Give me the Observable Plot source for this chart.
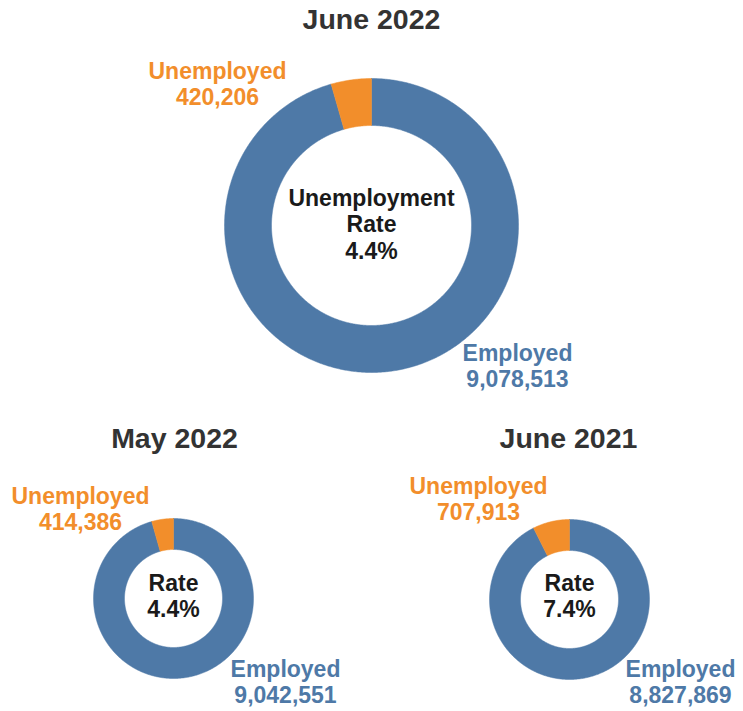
<!DOCTYPE html>
<html><head><meta charset="utf-8">
<script src="https://cdn.jsdelivr.net/npm/d3@7"></script>
<script src="https://cdn.jsdelivr.net/npm/@observablehq/plot@0.6"></script>
<style>body{margin:0;background:#fff;}</style>
</head><body><div id="chart"></div>
<script>
// ---- data ----
const periods = ["June 2022", "May 2022", "June 2021"];
const employed = [9078513, 9042551, 8827869];
const unemployed = [420206, 414386, 707913];
const categories = ["Employed", "Unemployed"];
const centerCaptions = [["Unemployment", "Rate"], ["Rate"], ["Rate"]];

// ---- layout (positions only) ----
const W = 743, H = 711;
const layout = [
  {cx: 371, cy: 225, r0: 100, r1: 147, titleX: 371, titleY: 28, uX: 217, uY: 78, eX: 517, eY: 360, centerTop: 205},
  {cx: 173, cy: 598, r0: 49, r1: 80, titleX: 174, titleY: 447, uX: 80, uY: 503, eX: 285, eY: 676, centerTop: 590},
  {cx: 569, cy: 599, r0: 49, r1: 80, titleX: 568, titleY: 447, uX: 478, uY: 493, eX: 680, eY: 676, centerTop: 590}
];
const colorRange = ["#4e79a7", "#f28e2b"];
const FS = 23, TFS = 28.5, LH = 26.5;

const fmt = d3.format(",");
const pie = d3.pie().sort(null).value(d => d.value);

// ring polygons built from values
const ringPts = [];
periods.forEach((p, i) => {
  const L = layout[i];
  const arcs = pie([{cat: categories[0], value: employed[i]}, {cat: categories[1], value: unemployed[i]}]);
  arcs.forEach(a => {
    const n = Math.max(8, Math.ceil((a.endAngle - a.startAngle) / (Math.PI / 360)));
    const id = p + "|" + a.data.cat;
    const pts = [];
    for (let k = 0; k <= n; k++) {
      const t = a.startAngle + (a.endAngle - a.startAngle) * k / n;
      pts.push([L.cx + L.r1 * Math.sin(t), L.cy - L.r1 * Math.cos(t)]);
    }
    for (let k = n; k >= 0; k--) {
      const t = a.startAngle + (a.endAngle - a.startAngle) * k / n;
      pts.push([L.cx + L.r0 * Math.sin(t), L.cy - L.r0 * Math.cos(t)]);
    }
    pts.push(pts[0]);
    pts.forEach(([x, y]) => ringPts.push({id, cat: a.data.cat, x, y}));
  });
});

// text lines (baseline -> center for middle anchor)
const mid = (baseline, fs) => baseline - 0.32 * fs;
const titles = periods.map((p, i) => ({text: p, x: layout[i].titleX, y: mid(layout[i].titleY, TFS)}));
const labels = [];
const centers = [];
periods.forEach((p, i) => {
  const L = layout[i];
  labels.push({text: categories[1], cat: categories[1], x: L.uX, y: mid(L.uY, FS)});
  labels.push({text: fmt(unemployed[i]), cat: categories[1], x: L.uX, y: mid(L.uY + LH, FS)});
  labels.push({text: categories[0], cat: categories[0], x: L.eX, y: mid(L.eY, FS)});
  labels.push({text: fmt(employed[i]), cat: categories[0], x: L.eX, y: mid(L.eY + LH, FS)});
  const rate = (100 * unemployed[i] / (employed[i] + unemployed[i])).toFixed(1) + "%";
  const lines = [...centerCaptions[i], rate];
  lines.forEach((t, k) => centers.push({text: t, x: L.cx, y: mid(L.centerTop + k * LH, FS)}));
});

const chart = Plot.plot({
  width: W, height: H, margin: 0,
  x: {domain: [0, W], range: [0, W], axis: null},
  y: {domain: [0, H], range: [0, H], axis: null},
  color: {domain: categories, range: colorRange},
  style: {fontFamily: "'Liberation Sans', Arial, sans-serif", background: "#fff"},
  marks: [
    Plot.line(ringPts, {x: "x", y: "y", z: "id", fill: "cat", stroke: "cat", strokeWidth: 0.5, curve: "linear"}),
    Plot.text(titles, {x: "x", y: "y", text: "text", fontSize: TFS, fontWeight: "bold", fill: "#333"}),
    Plot.text(labels, {x: "x", y: "y", text: "text", fontSize: FS, fontWeight: "bold", fill: "cat"}),
    Plot.text(centers, {x: "x", y: "y", text: "text", fontSize: FS, fontWeight: "bold", fill: "#1a1a1a"})
  ]
});
document.getElementById("chart").appendChild(chart);
</script>
</body></html>
